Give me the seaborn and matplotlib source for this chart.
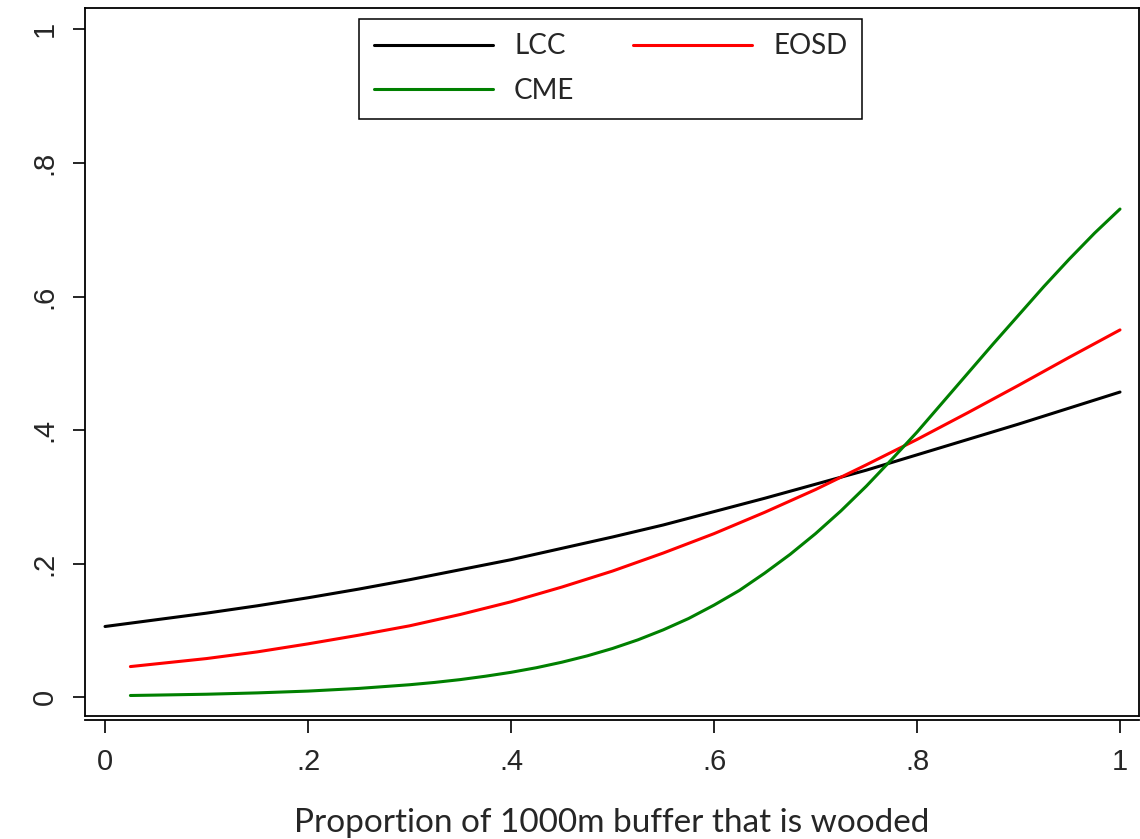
import numpy as np
import pandas as pd
import matplotlib
matplotlib.use("Agg")
import matplotlib.pyplot as plt
from matplotlib.lines import Line2D
import seaborn as sns

# Predicted probability against wooded proportion of the 1000 m buffer
x_lcc = [0.00, 0.05, 0.10, 0.15, 0.20, 0.25, 0.30, 0.35, 0.40, 0.45, 0.50,
         0.55, 0.60, 0.65, 0.70, 0.75, 0.80, 0.85, 0.90, 0.95, 1.00]
y_lcc = [0.106, 0.116, 0.126, 0.137, 0.149, 0.162, 0.176, 0.191, 0.206, 0.223, 0.240,
         0.258, 0.278, 0.298, 0.319, 0.340, 0.363, 0.386, 0.409, 0.433, 0.457]

x_eosd = [0.025, 0.05, 0.10, 0.15, 0.20, 0.25, 0.30, 0.35, 0.40, 0.45, 0.50,
          0.55, 0.60, 0.65, 0.70, 0.75, 0.80, 0.85, 0.90, 0.95, 1.00]
y_eosd = [0.046, 0.050, 0.058, 0.068, 0.080, 0.093, 0.107, 0.124, 0.143, 0.165, 0.189,
          0.216, 0.245, 0.277, 0.311, 0.348, 0.386, 0.426, 0.467, 0.509, 0.550]

x_cme = [0.025, 0.05, 0.10, 0.15, 0.20, 0.25, 0.30, 0.325, 0.35, 0.375, 0.40,
         0.425, 0.45, 0.475, 0.50, 0.525, 0.55, 0.575, 0.60, 0.625, 0.65,
         0.675, 0.70, 0.725, 0.75, 0.775, 0.80, 0.825, 0.85, 0.875, 0.90,
         0.925, 0.95, 0.975, 1.00]
y_cme = [0.0027, 0.0033, 0.0046, 0.0066, 0.0093, 0.0133, 0.0188, 0.0223, 0.0265, 0.0316, 0.0374,
         0.0443, 0.0525, 0.0620, 0.0731, 0.0860, 0.101, 0.118, 0.138, 0.160, 0.186,
         0.214, 0.245, 0.279, 0.316, 0.356, 0.397, 0.441, 0.485, 0.529, 0.572,
         0.615, 0.656, 0.695, 0.731]

series_names = ["LCC", "EOSD", "CME"]
series_colors = ["#000000", "#ff0000", "#008000"]

x_ticks = [0, 0.2, 0.4, 0.6, 0.8, 1.0]
x_tick_labels = ["0", ".2", ".4", ".6", ".8", "1"]
y_ticks = [0, 0.2, 0.4, 0.6, 0.8, 1.0]
y_tick_labels = ["0", ".2", ".4", ".6", ".8", "1"]
x_title = "Proportion of 1000m buffer that is wooded"

df = pd.concat([
    pd.DataFrame({"x": x_lcc, "y": y_lcc, "model": "LCC"}),
    pd.DataFrame({"x": x_eosd, "y": y_eosd, "model": "EOSD"}),
    pd.DataFrame({"x": x_cme, "y": y_cme, "model": "CME"}),
], ignore_index=True)

sns.set_style("ticks")
plt.rcParams["font.family"] = ["Liberation Sans", "DejaVu Sans"]

fig = plt.figure(figsize=(11.4, 8.39), dpi=100)
ax = fig.add_axes([0.0746, 0.1466, 0.9245, 0.8439])

palette = dict(zip(series_names, series_colors))
sns.lineplot(data=df, x="x", y="y", hue="model", hue_order=series_names,
             palette=palette, linewidth=2.2, ax=ax, legend=False, sort=False,
             estimator=None)

for s in ax.spines.values():
    s.set_visible(True)
    s.set_color("black")
    s.set_linewidth(1.3)
ax.spines["bottom"].set_position(("outward", 3))
# inner edge of the plot region box
ax.plot([0, 1], [0, 0], transform=ax.transAxes, color="black",
        linewidth=1.3, clip_on=False)

ax.set_xlim(-0.0197, 1.0187)
ax.set_ylim(-0.028, 1.032)

ax.set_xticks(x_ticks)
ax.set_xticklabels(x_tick_labels, fontsize=21)
ax.set_yticks(y_ticks)
ax.set_yticklabels(y_tick_labels, fontsize=21, rotation=90, va="center")

ax.tick_params(axis="both", direction="out", length=9, width=1.2, color="black")
ax.tick_params(axis="x", pad=11)
ax.tick_params(axis="y", pad=10)

ax.set_xlabel(x_title, fontsize=24, family=["Lato", "DejaVu Sans"], labelpad=23)
ax.set_ylabel("")

handles = [
    Line2D([], [], color=series_colors[0], linewidth=2.2),
    Line2D([], [], color=series_colors[2], linewidth=2.2),
    Line2D([], [], color=series_colors[1], linewidth=2.2),
]
labels = ["LCC", "CME", "EOSD"]
leg = ax.legend(handles, labels, ncol=2, loc="upper center",
                bbox_to_anchor=(0.4986, 0.985), borderaxespad=0,
                frameon=True, fancybox=False,
                handlelength=4.3, handletextpad=0.75, columnspacing=2.1,
                borderpad=0.53, labelspacing=0.68,
                prop={"family": ["Lato", "DejaVu Sans"], "size": 20})
leg.get_frame().set_edgecolor("black")
leg.get_frame().set_linewidth(1.1)
leg.get_frame().set_alpha(1)

fig.savefig("out.png", dpi=100, facecolor="white")
